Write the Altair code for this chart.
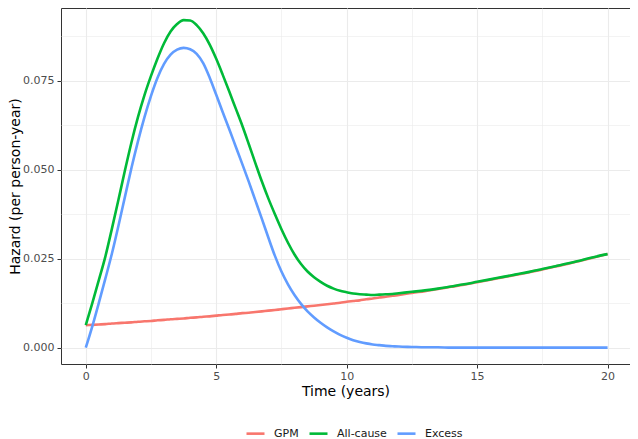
import altair as alt
import pandas as pd

times = [0, 0.25, 0.5, 0.75, 1, 1.25, 1.5, 1.75, 2, 2.25, 2.5, 2.75,
         3, 3.25, 3.5, 3.75, 4, 4.25, 4.5, 4.75, 5, 5.25, 5.5, 5.75,
         6, 6.25, 6.5, 6.75, 7, 7.25, 7.5, 7.75, 8, 8.25, 8.5, 8.75,
         9, 9.25, 9.5, 9.75, 10, 10.25, 10.5, 10.75, 11, 11.25, 11.5, 11.75,
         12, 12.5, 13, 13.5, 14, 14.5, 15, 15.5, 16, 16.5, 17, 17.5,
         18, 18.5, 19, 19.5, 20]

gpm = [0.0063, 0.0064, 0.0065, 0.0066, 0.0068, 0.0069, 0.0070, 0.0071, 0.0073, 0.0074, 0.0075, 0.0077,
       0.0078, 0.0080, 0.0081, 0.0082, 0.0084, 0.0085, 0.0087, 0.0088, 0.0090, 0.0092, 0.0093, 0.0095,
       0.0097, 0.0098, 0.0100, 0.0102, 0.0104, 0.0106, 0.0108, 0.0110, 0.0112, 0.0114, 0.0116, 0.0118,
       0.0120, 0.0122, 0.0124, 0.0126, 0.0129, 0.0131, 0.0133, 0.0136, 0.0138, 0.0141, 0.0143, 0.0146,
       0.0148, 0.0154, 0.0159, 0.0165, 0.0171, 0.0177, 0.0184, 0.0191, 0.0198, 0.0205, 0.0212, 0.0220,
       0.0228, 0.0236, 0.0245, 0.0254, 0.0263]

allcause = [0.0063, 0.0125, 0.0190, 0.0256, 0.0334, 0.0415, 0.0498, 0.0577, 0.0648, 0.0710, 0.0764, 0.0813,
            0.0856, 0.0889, 0.0910, 0.0921, 0.0920, 0.0907, 0.0884, 0.0852, 0.0812, 0.0767, 0.0720, 0.0672,
            0.0624, 0.0572, 0.0519, 0.0467, 0.0419, 0.0375, 0.0333, 0.0295, 0.0262, 0.0235, 0.0214, 0.0198,
            0.0185, 0.0174, 0.0166, 0.0160, 0.0156, 0.0152, 0.0150, 0.0149, 0.0148, 0.0149, 0.0150, 0.0151,
            0.0153, 0.0157, 0.0161, 0.0166, 0.0172, 0.0178, 0.0185, 0.0192, 0.0199, 0.0206, 0.0213, 0.0221,
            0.0229, 0.0237, 0.0246, 0.0255, 0.0263]

excess = [0.0, 0.0060, 0.0126, 0.0194, 0.0264, 0.0342, 0.0424, 0.0505, 0.0580, 0.0648, 0.0708, 0.0759,
          0.0798, 0.0824, 0.0838, 0.0843, 0.0839, 0.0826, 0.0800, 0.0759, 0.0711, 0.0662, 0.0614, 0.0565,
          0.0516, 0.0466, 0.0414, 0.0362, 0.0309, 0.0258, 0.0214, 0.0178, 0.0148, 0.0123, 0.0102, 0.0085,
          0.0070, 0.0057, 0.0046, 0.0036, 0.0028, 0.0021, 0.0016, 0.0012, 0.0009, 0.0007, 0.0005, 0.0004,
          0.0003, 0.0002, 0.0001, 0.0001, 0.0, 0.0, 0.0, 0.0, 0.0, 0.0, 0.0, 0.0,
          0.0, 0.0, 0.0, 0.0, 0.0]

series_names = ["GPM", "All-cause", "Excess"]
series_colors = ["#F8766D", "#00BA38", "#619CFF"]

x_major = [0, 5, 10, 15, 20]
x_minor = [2.5, 7.5, 12.5, 17.5]
y_major = [0.0, 0.025, 0.05, 0.075]
y_minor = [0.0125, 0.0375, 0.0625, 0.0875]

rows = []
for name, vals in zip(series_names, [gpm, allcause, excess]):
    for t, v in zip(times, vals):
        rows.append({"time": t, "hazard": v, "series": name})
df = pd.DataFrame(rows)

x_scale = alt.Scale(domain=[-0.95, 20.86], nice=False, zero=False)
y_scale = alt.Scale(domain=[-0.0046, 0.0955], nice=False, zero=False)

minor = alt.Chart(df).mark_line(opacity=0).encode(
    x=alt.X("time:Q", scale=x_scale,
            axis=alt.Axis(orient="top", values=x_minor, grid=True, gridColor="#EBEBEB",
                          gridWidth=0.6, labels=False, ticks=False, domain=False, title=None)),
    y=alt.Y("hazard:Q", scale=y_scale,
            axis=alt.Axis(orient="right", values=y_minor, grid=True, gridColor="#EBEBEB",
                          gridWidth=0.6, labels=False, ticks=False, domain=False, title=None)),
)

main = alt.Chart(df).mark_line(strokeWidth=2.6, interpolate="monotone").encode(
    x=alt.X("time:Q", scale=x_scale,
            axis=alt.Axis(values=x_major, format="d", title="Time (years)", grid=True,
                          gridColor="#EBEBEB", gridWidth=1.1, labelPadding=2, titlePadding=3)),
    y=alt.Y("hazard:Q", scale=y_scale,
            axis=alt.Axis(values=y_major, format=".3f", title="Hazard (per person-year)", grid=True,
                          gridColor="#EBEBEB", gridWidth=1.1, labelPadding=3, titlePadding=0)),
    color=alt.Color("series:N",
                    scale=alt.Scale(domain=series_names, range=series_colors),
                    legend=alt.Legend(title=None, orient="none", direction="horizontal",
                                      legendX=184, legendY=415, symbolType="stroke",
                                      symbolSize=324, symbolStrokeWidth=2.6, labelOffset=8,
                                      columnPadding=5, padding=0, labelFontSize=11,
                                      labelColor="#1A1A1A")),
)

chart = alt.layer(minor, main).resolve_axis(
    x="independent", y="independent"
).properties(
    width=569, height=356,
    autosize=alt.AutoSizeParams(type="none"),
    padding={"left": 53, "top": 0, "right": 0, "bottom": 75},
).configure(
    font="DejaVu Sans",
).configure_view(
    stroke="#333333", strokeWidth=1,
).configure_axis(
    labelFontSize=11, labelColor="#4D4D4D", titleFontSize=14, titleColor="#000000",
    titleFontWeight="normal", tickColor="#333333", tickSize=4, domain=False,
    labelFont="DejaVu Sans", titleFont="DejaVu Sans",
).configure_legend(
    labelFont="DejaVu Sans",
)

chart.save("out.html", embed_options={"renderer": "svg", "actions": False})
